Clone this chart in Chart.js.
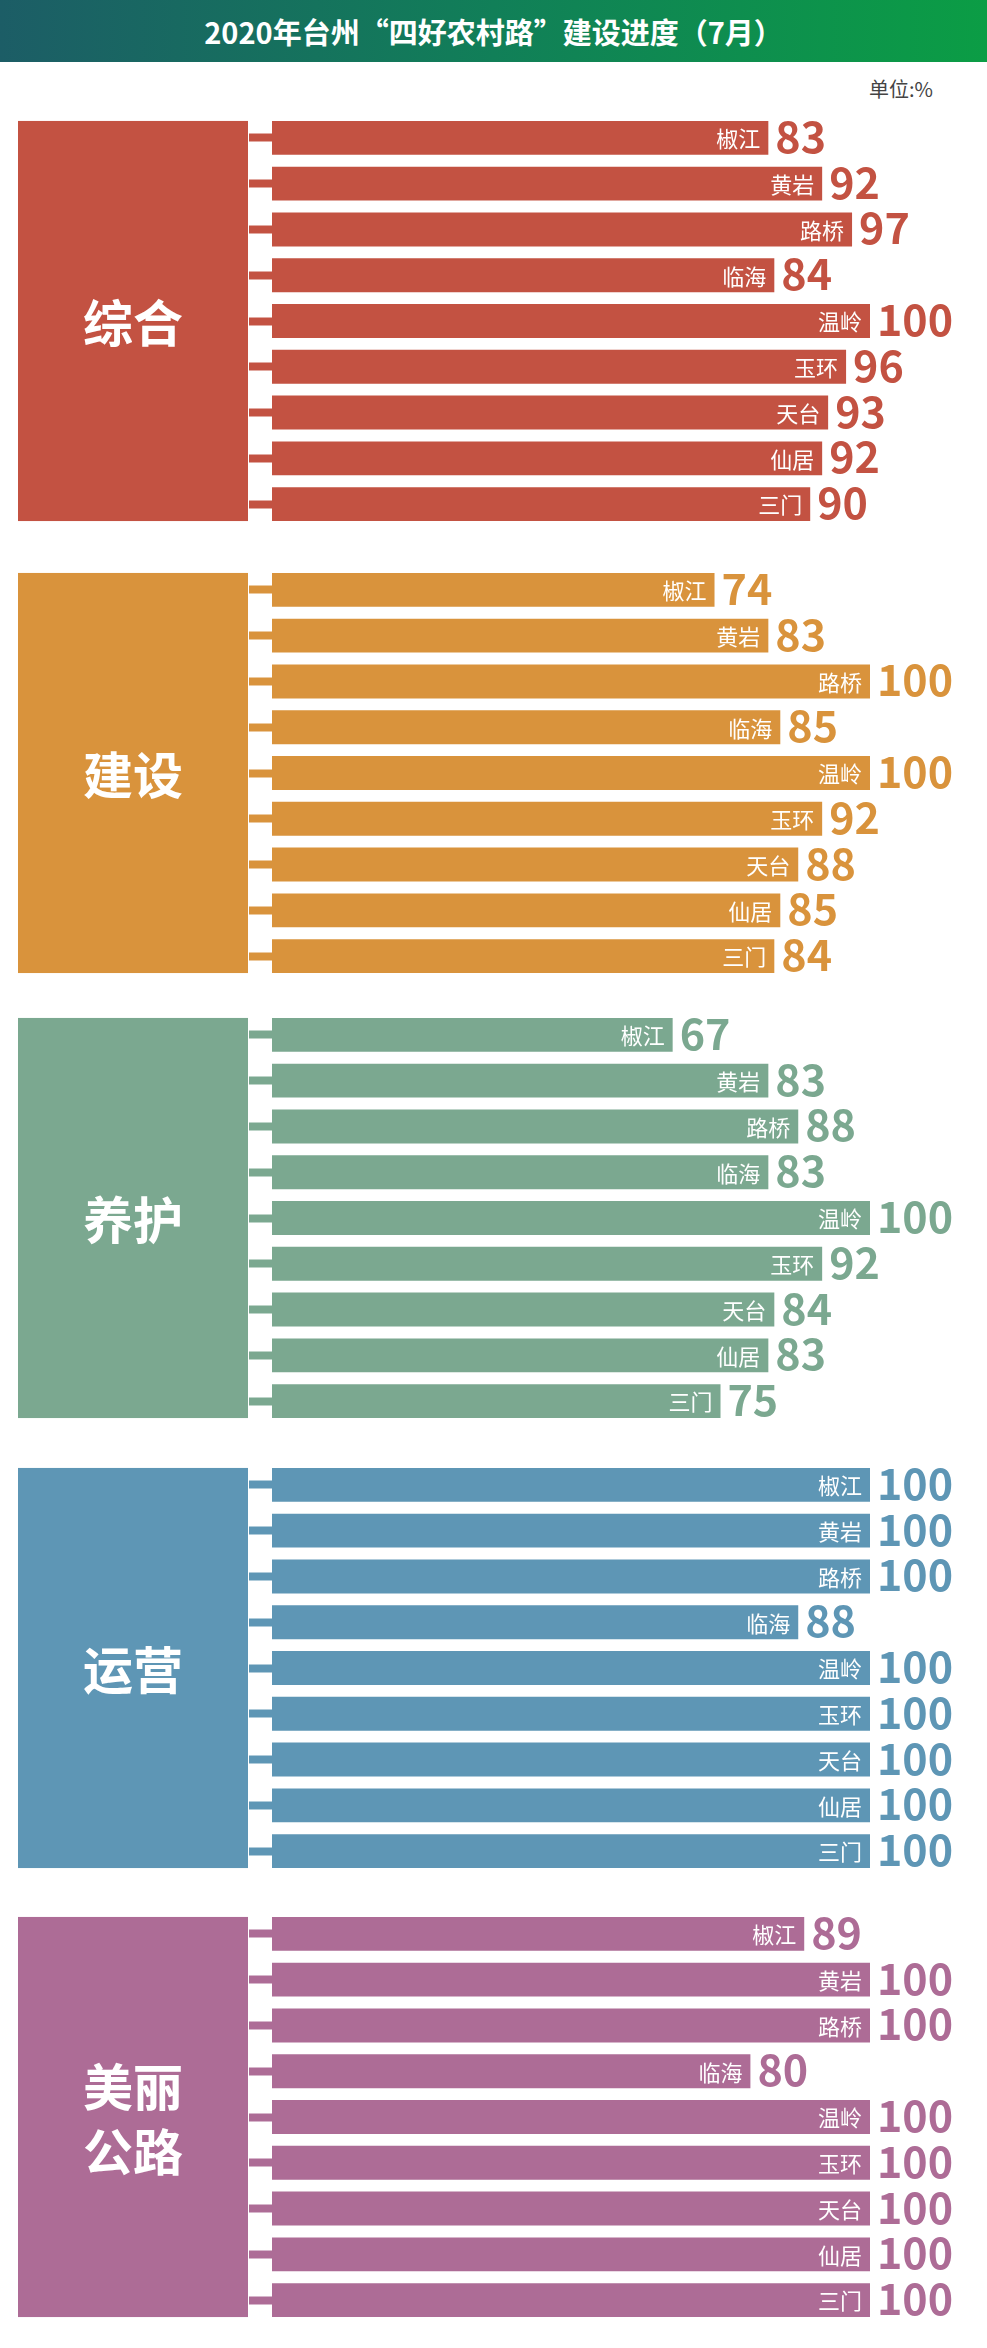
<!DOCTYPE html>
<html>
<head>
<meta charset="utf-8">
<title>2020年台州“四好农村路”建设进度（7月）</title>
<script src="https://cdn.jsdelivr.net/npm/chart.js@4.4.0/dist/chart.umd.min.js"></script>
<style>
  html, body { margin: 0; padding: 0; background: #fff; }
  #page { position: relative; width: 987px; height: 2348px; overflow: hidden;
          font-family: "Noto Sans CJK SC", "Noto Sans", sans-serif; }
  #titleBar { position: absolute; left: 0; top: 0; width: 987px; height: 62px;
              background: linear-gradient(90deg, #1c5d66 0%, #117f58 50%, #0b9d45 100%);
              color: #fff; font-weight: bold; font-size: 29px; line-height: 62px; text-align: center; }
  #unit { position: absolute; right: 54px; top: 74px; font-size: 20px; color: #444; }
  .group { position: absolute; left: 0; }
</style>
</head>
<body>
<div id="page">
  <div id="titleBar">2020年台州“四好农村路”建设进度（7月）</div>
  <div id="unit">单位:%</div>
</div>
<script>
// districts, same order in every group
const districts = ['椒江', '黄岩', '路桥', '临海', '温岭', '玉环', '天台', '仙居', '三门'];

const groupNames = ['综合', '建设', '养护', '运营', '美丽公路'];

const overall      = [83, 92, 97, 84, 100, 96, 93, 92, 90];
const construction = [74, 83, 100, 85, 100, 92, 88, 85, 84];
const maintenance  = [67, 83, 88, 83, 100, 92, 84, 83, 75];
const operation    = [100, 100, 100, 88, 100, 100, 100, 100, 100];
const beautiful    = [89, 100, 100, 80, 100, 100, 100, 100, 100];

const groupValues = [overall, construction, maintenance, operation, beautiful];
const groupColors = ['#c35242', '#d9933c', '#7ba890', '#5e96b5', '#ad6c96'];

// layout
const groupTops = [121, 573, 1018, 1468, 1917];
const canvasW = 987, canvasH = 412;
const blockLeft = 18;

function groupPlugin(name, color) {
    return {
        id: 'groupDecor',
        beforeDatasetsDraw(chart) {
            const ctx = chart.ctx;
            const bars = chart.getDatasetMeta(0).data;
            const top = bars[0].y - bars[0].height / 2;
            const bottom = bars[bars.length - 1].y + bars[bars.length - 1].height / 2;
            const right = chart.scales.y.left - 1;
            ctx.save();
            ctx.fillStyle = color;
            ctx.fillRect(blockLeft, top, right - blockLeft, bottom - top);
            // group name, two chars per line
            const lines = [];
            for (let i = 0; i < name.length; i += 2) lines.push(name.slice(i, i + 2));
            ctx.fillStyle = '#fff';
            ctx.font = 'bold 50px "Noto Sans CJK SC"';
            ctx.textAlign = 'center';
            ctx.textBaseline = 'middle';
            const cx = (blockLeft + right) / 2, cy = (top + bottom) / 2;
            const lh = 65;
            lines.forEach(function (ln, i) {
                ctx.fillText(ln, cx, cy + (i - (lines.length - 1) / 2) * lh + 2);
            });
            ctx.restore();
        },
        afterDatasetsDraw(chart) {
            const ctx = chart.ctx;
            const meta = chart.getDatasetMeta(0);
            const values = chart.data.datasets[0].data;
            ctx.save();
            meta.data.forEach(function (bar, i) {
                ctx.fillStyle = '#fff';
                ctx.font = '22px "Noto Sans CJK SC"';
                ctx.textAlign = 'right';
                ctx.textBaseline = 'middle';
                ctx.fillText(chart.data.labels[i], bar.x - 8, bar.y + 1);

                ctx.fillStyle = color;
                ctx.font = 'bold 43px "Noto Sans CJK SC"';
                ctx.textAlign = 'left';
                ctx.textBaseline = 'alphabetic';
                ctx.fillText(String(values[i]), bar.x + 7, bar.y + 15);
            });
            ctx.restore();
        }
    };
}

const page = document.getElementById('page');

groupNames.forEach(function (name, g) {
    const canvas = document.createElement('canvas');
    canvas.className = 'group';
    canvas.width = canvasW;
    canvas.height = canvasH;
    canvas.style.top = (groupTops[g] - 6.2) + 'px';
    page.appendChild(canvas);

    const color = groupColors[g];
    new Chart(canvas.getContext('2d'), {
        type: 'bar',
        data: {
            labels: districts,
            datasets: [{
                data: groupValues[g],
                backgroundColor: color,
                barPercentage: 0.74,
                categoryPercentage: 1,
            }],
        },
        options: {
            indexAxis: 'y',
            responsive: false,
            animation: false,
            layout: { padding: { left: 249, right: 117, top: 0, bottom: 0 } },
            plugins: {
                legend: { display: false },
                tooltip: { enabled: false },
            },
            scales: {
                x: { display: false, min: 0, max: 100 },
                y: {
                    border: { display: false },
                    ticks: { display: false },
                    grid: {
                        offset: false,
                        drawOnChartArea: false,
                        tickLength: 23,
                        tickWidth: 8,
                        tickColor: color,
                    },
                },
            },
        },
        plugins: [groupPlugin(name, color)],
    });
});
</script>
</body>
</html>
